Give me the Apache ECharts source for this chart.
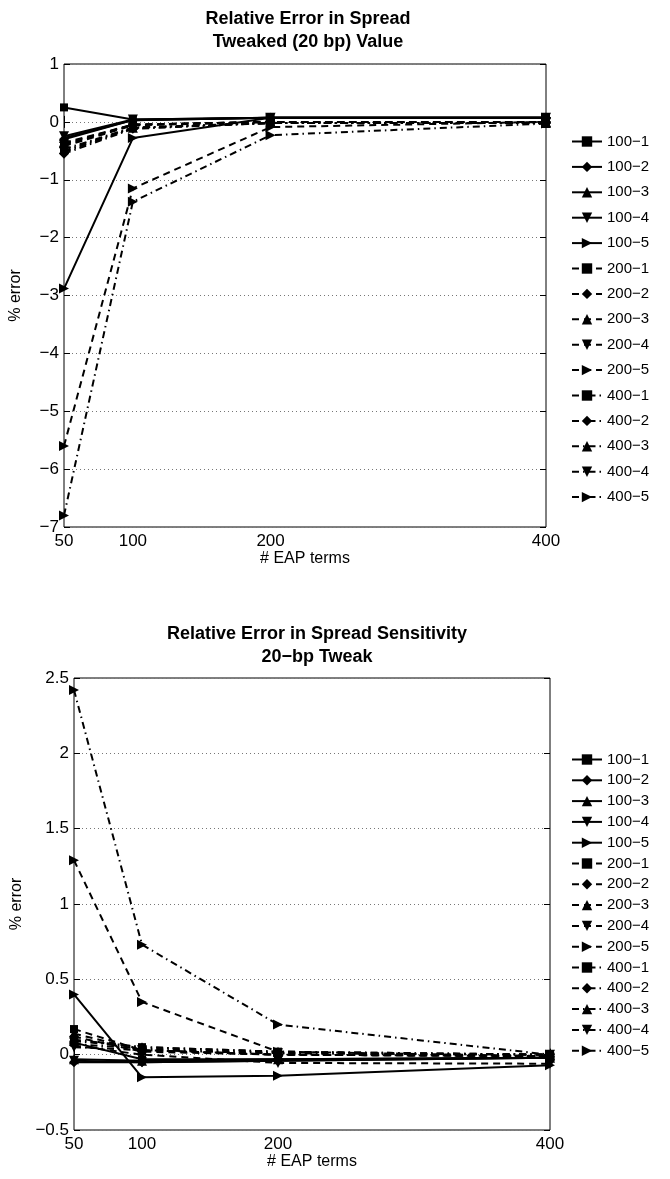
<!DOCTYPE html>
<html>
<head>
<meta charset="utf-8">
<script src="https://cdn.jsdelivr.net/npm/echarts@6.0.0/dist/echarts.min.js"></script>
<style>
  html, body { margin: 0; padding: 0; background: #fff; }
  #chart { width: 670px; height: 1179px; }
</style>
</head>
<body>
<div id="chart"></div>
<script>
// --- data ---
const eapTerms = [50, 100, 200, 400];
const seriesNames = ['100\u22121', '100\u22122', '100\u22123', '100\u22124', '100\u22125',
                     '200\u22121', '200\u22122', '200\u22123', '200\u22124', '200\u22125',
                     '400\u22121', '400\u22122', '400\u22123', '400\u22124', '400\u22125'];

// top panel: relative error in tweaked (20 bp) spread value, % error
const tweakedValueErr = [
  [0.25, 0.04, 0.07, 0.07],
  [-0.30, 0.03, 0.07, 0.07],
  [-0.28, 0.03, 0.07, 0.07],
  [-0.25, 0.04, 0.07, 0.07],
  [-2.88, -0.28, 0.07, 0.07],
  [-0.38, -0.05, 0.00, 0.00],
  [-0.42, -0.06, 0.00, 0.00],
  [-0.36, -0.05, 0.00, 0.00],
  [-0.40, -0.05, 0.00, 0.00],
  [-5.60, -1.15, -0.09, 0.00],
  [-0.50, -0.10, -0.02, -0.02],
  [-0.55, -0.12, -0.02, -0.02],
  [-0.47, -0.10, -0.02, -0.02],
  [-0.52, -0.11, -0.02, -0.02],
  [-6.80, -1.38, -0.23, -0.03]
];

// bottom panel: relative error in spread sensitivity (20-bp tweak), % error
const sensitivityErr = [
  [0.08, -0.03, -0.03, -0.02],
  [-0.05, -0.05, -0.04, -0.02],
  [-0.03, -0.04, -0.03, -0.02],
  [-0.04, -0.05, -0.04, -0.02],
  [0.40, -0.15, -0.14, -0.07],
  [0.17, 0.03, 0.00, -0.01],
  [0.12, 0.02, 0.00, -0.01],
  [0.14, 0.03, 0.00, -0.01],
  [0.06, 0.00, -0.055, -0.06],
  [1.29, 0.35, 0.02, -0.01],
  [0.10, 0.05, 0.02, 0.00],
  [0.07, 0.04, 0.01, 0.00],
  [0.09, 0.05, 0.02, 0.00],
  [0.05, 0.03, 0.01, 0.00],
  [2.42, 0.73, 0.20, 0.00]
];

const topYTicks = [-7, 1, 1];       // min, max, interval
const bottomYTicks = [-0.5, 2.5, 0.5];

// --- styles ---
const FONT = 'Liberation Sans, Arial, sans-serif';
const markers = ['rect', 'diamond', 'triangle', 'path://M0,0L10,0L5,10Z', 'path://M0,0L10,5L0,10Z'];
const markerSizes = [8, 10, 10, 10, 10];
const dashes = ['solid', [7, 5], [7, 4, 1.5, 4]];

const fmtY = v => v < 0 ? '\u2212' + Math.abs(v) : String(v);

function buildAxes(gridIndex, yRange) {
  const base = {
    gridIndex,
    axisLine: { show: false },
    axisTick: { inside: true, length: 6, lineStyle: { color: '#000' } }
  };
  const xMain = {
    ...base, type: 'value', min: 50, max: 400, position: 'bottom',
    name: '# EAP terms', nameLocation: 'middle', nameGap: 24,
    nameTextStyle: { fontSize: 16, color: '#000', fontFamily: FONT },
    axisTick: { ...base.axisTick, customValues: eapTerms },
    axisLabel: { customValues: eapTerms, fontSize: 17, color: '#000', fontFamily: FONT, margin: 6 },
    splitLine: { show: false }
  };
  const xTop = {
    ...base, type: 'value', min: 50, max: 400, position: 'top',
    axisTick: { ...base.axisTick, customValues: eapTerms },
    axisLabel: { show: false }, splitLine: { show: false }
  };
  const yMain = {
    ...base, type: 'value', min: yRange[0], max: yRange[1], interval: yRange[2], position: 'left',
    name: '% error', nameLocation: 'middle', nameGap: gridIndex === 0 ? 40 : 46,
    nameTextStyle: { fontSize: 16, color: '#000', fontFamily: FONT },
    axisLabel: { formatter: fmtY, fontSize: 17, color: '#000', fontFamily: FONT, margin: 5 },
    splitLine: { show: true, lineStyle: { color: '#777', type: [1, 3], width: 1 } }
  };
  const yRight = {
    ...base, type: 'value', min: yRange[0], max: yRange[1], interval: yRange[2], position: 'right',
    axisLabel: { show: false }, splitLine: { show: false }
  };
  return { x: [xMain, xTop], y: [yMain, yRight] };
}

const topAxes = buildAxes(0, topYTicks);
const botAxes = buildAxes(1, bottomYTicks);

function buildSeries(values, axisIndex) {
  return seriesNames.map((name, i) => ({
    name,
    type: 'line',
    xAxisIndex: axisIndex,
    yAxisIndex: axisIndex,
    data: eapTerms.map((x, j) => [x, values[i][j]]),
    symbol: markers[i % 5],
    symbolSize: markerSizes[i % 5],
    showAllSymbol: true,
    lineStyle: { color: '#000', width: 2, type: dashes[Math.floor(i / 5)] },
    itemStyle: { color: '#000', borderWidth: 0 },
    emphasis: { disabled: true },
    animation: false
  }));
}

// top legend rows are spaced wider than the bottom one
function buildLegend(top, gap) {
  return {
    orient: 'vertical', left: 571, top, padding: 0,
    itemWidth: 30, itemHeight: 13, itemGap: gap,
    selectedMode: false,
    textStyle: { fontSize: 15, color: '#000', fontFamily: FONT },
    data: seriesNames
  };
}

const chart = echarts.init(document.getElementById('chart'), null, { renderer: 'canvas' });
chart.setOption({
  backgroundColor: '#fff',
  animation: false,
  title: [
    {
      text: 'Relative Error in Spread\nTweaked (20 bp) Value',
      left: 303, top: 3, textAlign: 'center',
      textStyle: { fontSize: 18, fontWeight: 'bold', lineHeight: 23, color: '#000', fontFamily: FONT }
    },
    {
      text: 'Relative Error in Spread Sensitivity\n20\u2212bp Tweak',
      left: 312, top: 618, textAlign: 'center',
      textStyle: { fontSize: 18, fontWeight: 'bold', lineHeight: 23, color: '#000', fontFamily: FONT }
    }
  ],
  legend: [buildLegend(134, 10.4), buildLegend(752, 5.8)],
  grid: [
    { left: 61, top: 64, width: 485, height: 463, show: true, borderColor: '#000', borderWidth: 1, backgroundColor: 'transparent' },
    { left: 74, top: 678, width: 476, height: 452, show: true, borderColor: '#000', borderWidth: 1, backgroundColor: 'transparent' }
  ],
  xAxis: [...topAxes.x, ...botAxes.x],
  yAxis: [...topAxes.y, ...botAxes.y],
  series: [...buildSeries(tweakedValueErr, 0), ...buildSeries(sensitivityErr, 2)]
});
</script>
</body>
</html>
